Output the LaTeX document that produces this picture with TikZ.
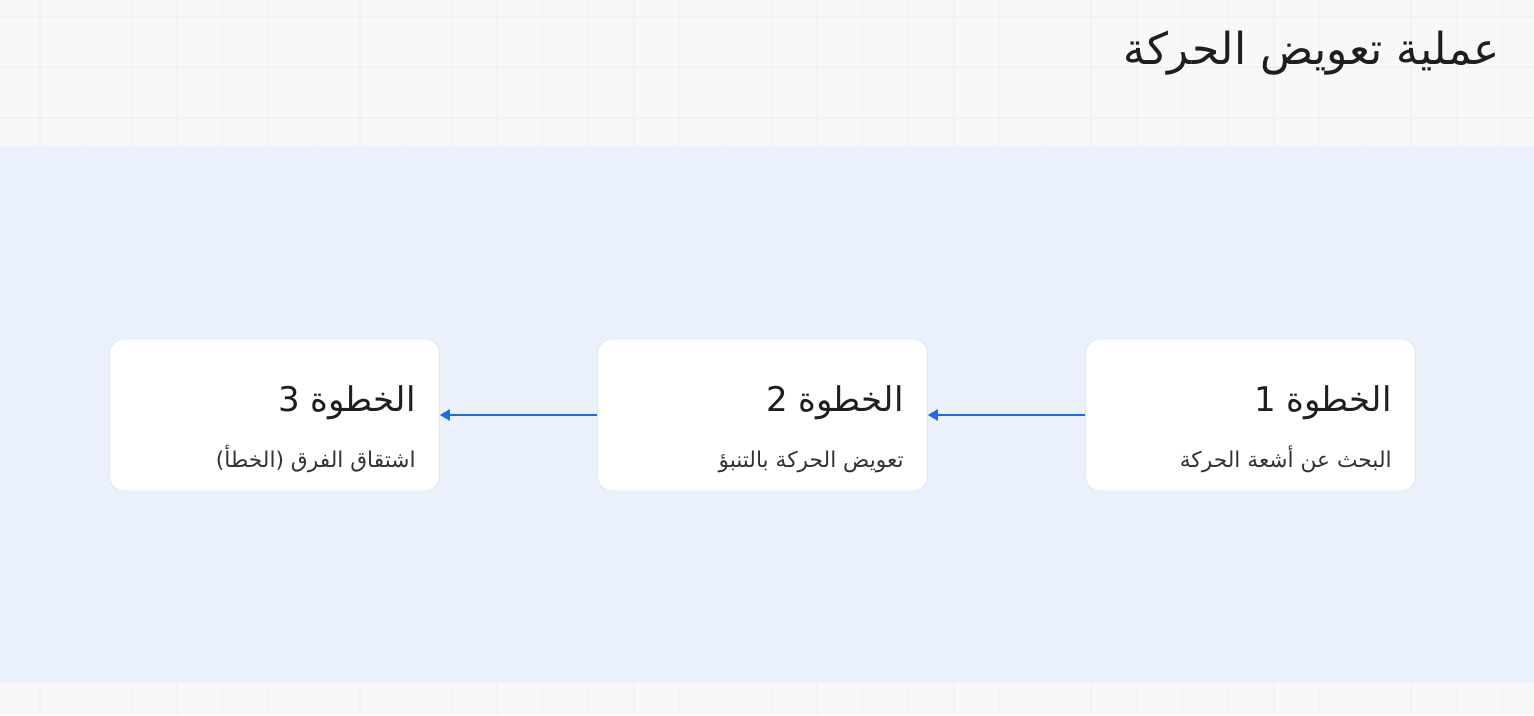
\documentclass[tikz,border=0pt]{standalone}
\usepackage{fontspec}
\newfontfamily\arabicfont[Script=Arabic]{DejaVu Sans}
\TeXXeTstate=1
\usetikzlibrary{positioning, arrows.meta, calc}
\definecolor{bandgrey}{HTML}{F8F8F8}
\definecolor{gridgrey}{HTML}{F2F2F2}
\definecolor{panelblue}{HTML}{EAF1FD}
\definecolor{boxedge}{HTML}{DFE7F4}
\definecolor{arrowblue}{HTML}{1A6FE0}
\definecolor{inkdark}{HTML}{1E1E1E}
\definecolor{inkgrey}{HTML}{333333}

\begin{document}
\begin{tikzpicture}[x=0.75pt, y=-0.75pt, node distance=366pt, on grid,
  stepbox/.style={draw=boxedge, fill=white, line width=0.6pt, rounded corners=11pt,
    minimum width=247.5pt, minimum height=114pt},
  steptitle/.style={font=\arabicfont\fontsize{25.5}{30}\selectfont, text=inkdark,
    inner sep=0pt, anchor=base east},
  stepnote/.style={font=\arabicfont\fontsize{16.3}{20}\selectfont, text=inkgrey,
    inner sep=0pt, anchor=base east},
  flow/.style={-{Triangle[length=7.5pt,width=8.5pt]}, color=arrowblue, line width=1.1pt}]
        \useasboundingbox (0,0) rectangle (1534,715);
        % background bands and panel
        \fill[bandgrey] (0,0) rectangle (1534,715);
        \foreach \i in {0,...,33} {
          \draw[gridgrey, line width=1pt] (40+45.7*\i,0) -- ++(0,146);
          \draw[gridgrey, line width=1pt] (40+45.7*\i,683) -- ++(0,32);
        }
        \foreach \y in {17,67,118}
          \draw[gridgrey, line width=1pt] (0,\y) -- (1534,\y);
        \fill[panelblue] (0,146) rectangle (1534,683);

        \node[font=\arabicfont\fontsize{33}{40}\selectfont, text=inkdark, anchor=east, inner sep=0pt]
          (heading) at (1500,53) {\beginR عملية تعويض الحركة\endR};

        \node[stepbox] (s1) at (1250.5,415) {};
        \node[stepbox] (s2) [left=of s1] {};
        \node[stepbox] (s3) [left=of s2] {};

        \node[steptitle] (t1) at ($(s1.north east)+(-24,73)$) {\beginR الخطوة 1\endR};
        \node[stepnote]  (n1) at ($(s1.north east)+(-24,129)$) {\beginR البحث عن أشعة الحركة\endR};
        \node[steptitle] (t2) at ($(s2.north east)+(-24,73)$) {\beginR الخطوة 2\endR};
        \node[stepnote]  (n2) at ($(s2.north east)+(-24,129)$) {\beginR تعويض الحركة بالتنبؤ\endR};
        \node[steptitle] (t3) at ($(s3.north east)+(-24,73)$) {\beginR الخطوة 3\endR};
        \node[stepnote]  (n3) at ($(s3.north east)+(-24,129)$) {\beginR اشتقاق الفرق (الخطأ)\endR};

        \path[flow]
          (s1) edge (s2)
          (s2) edge (s3);
      \end{tikzpicture}
\end{document}
